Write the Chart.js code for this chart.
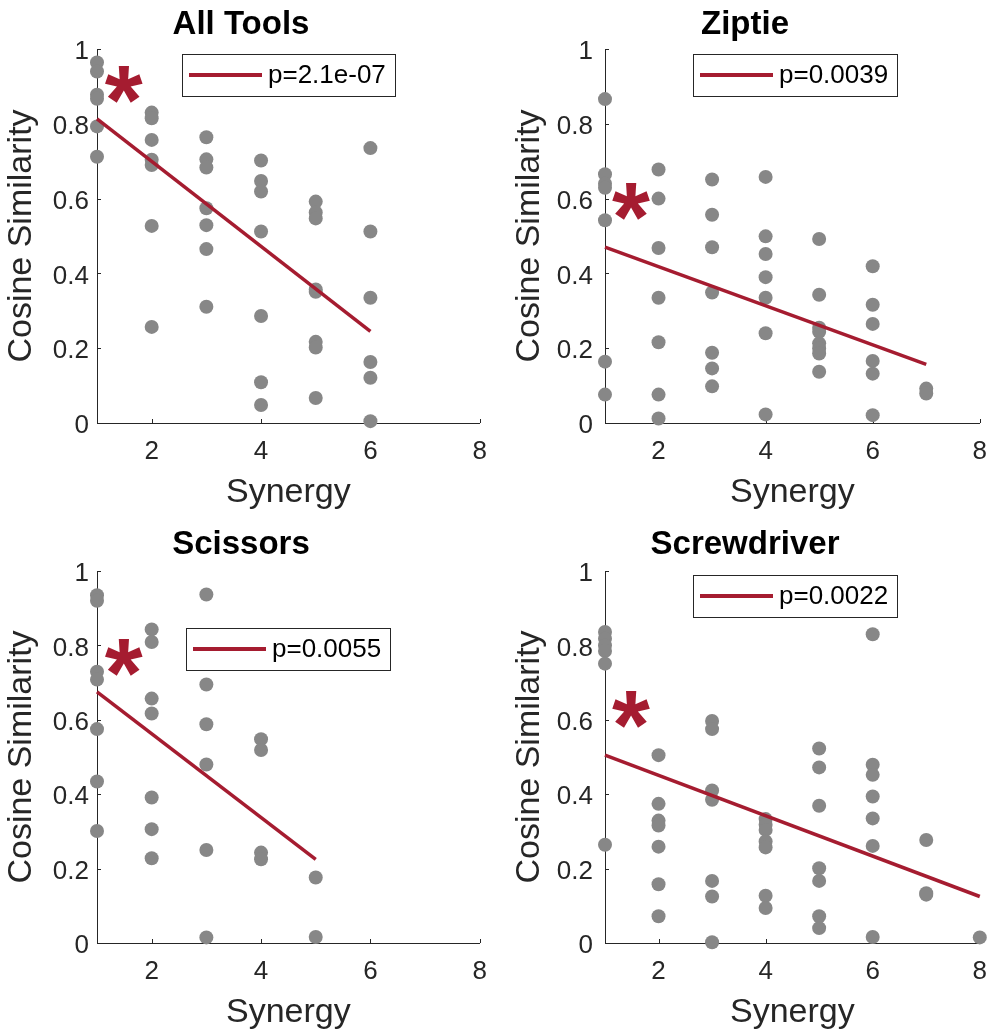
<!DOCTYPE html>
<html><head><meta charset="utf-8">
<script src="https://cdn.jsdelivr.net/npm/chart.js@4.4.1/dist/chart.umd.min.js"></script>
<style>
html,body{margin:0;padding:0;background:#fff;}
#wrap{position:relative;width:1000px;height:1034px;overflow:hidden;}
.p{position:absolute;width:500px;height:517px;}
canvas{display:block;}
</style></head><body>
<div id="wrap">
<div class="p" style="left:0;top:0"><canvas id="c1" width="500" height="517"></canvas></div>
<div class="p" style="left:500px;top:0"><canvas id="c2" width="500" height="517"></canvas></div>
<div class="p" style="left:0;top:517px"><canvas id="c3" width="500" height="517"></canvas></div>
<div class="p" style="left:500px;top:517px"><canvas id="c4" width="500" height="517"></canvas></div>
</div>
<script>
// ---------- data ----------
const panelTitles = ['All Tools', 'Ziptie', 'Scissors', 'Screwdriver'];
const pLabels = ['p=2.1e-07', 'p=0.0039', 'p=0.0055', 'p=0.0022'];
const xTitle = 'Synergy';
const yTitle = 'Cosine Similarity';
const xTickValues = [2, 4, 6, 8];
const xTickLabels = ['2', '4', '6', '8'];
const yTickValues = [0, 0.2, 0.4, 0.6, 0.8, 1];
const yTickLabels = ['0', '0.2', '0.4', '0.6', '0.8', '1'];

const allToolsSynergy = [1,1,1,1,1,1, 2,2,2,2,2,2,2, 3,3,3,3,3,3,3, 4,4,4,4,4,4,4, 5,5,5,5,5,5,5,5, 6,6,6,6,6,6];
const allToolsCosine = [0.964,0.940,0.878,0.867,0.793,0.712, 0.830,0.815,0.757,0.704,0.690,0.527,0.257, 0.764,0.705,0.683,0.574,0.529,0.465,0.311, 0.702,0.647,0.619,0.512,0.286,0.109,0.048, 0.592,0.563,0.547,0.357,0.351,0.217,0.202,0.067, 0.735,0.512,0.335,0.163,0.121,0.005];

const zipSynergy = [1,1,1,1,1,1,1, 2,2,2,2,2,2,2, 3,3,3,3,3,3,3, 4,4,4,4,4,4,4, 5,5,5,5,5,5,5,5, 6,6,6,6,6,6, 7,7];
const zipCosine = [0.866,0.665,0.640,0.629,0.542,0.164,0.076, 0.678,0.600,0.468,0.335,0.216,0.076,0.012, 0.651,0.557,0.470,0.349,0.188,0.146,0.098, 0.658,0.499,0.452,0.390,0.335,0.240,0.023, 0.492,0.343,0.255,0.244,0.213,0.199,0.186,0.137, 0.419,0.316,0.265,0.166,0.132,0.021, 0.092,0.079];

const scissorsSynergy = [1,1,1,1,1,1,1, 2,2,2,2,2,2,2, 3,3,3,3,3,3, 4,4,4,4, 5,5];
const scissorsCosine = [0.935,0.920,0.729,0.708,0.575,0.434,0.301, 0.843,0.809,0.657,0.617,0.391,0.306,0.228, 0.937,0.695,0.588,0.480,0.250,0.015, 0.548,0.519,0.243,0.225, 0.176,0.016];

const screwSynergy = [1,1,1,1,1,1, 2,2,2,2,2,2,2, 3,3,3,3,3,3,3, 4,4,4,4,4,4,4, 5,5,5,5,5,5,5, 6,6,6,6,6,6,6, 7,7,7, 8];
const screwCosine = [0.836,0.818,0.800,0.785,0.751,0.264, 0.505,0.374,0.329,0.316,0.259,0.158,0.072, 0.597,0.575,0.410,0.385,0.167,0.125,0.002, 0.333,0.318,0.304,0.273,0.257,0.127,0.094, 0.523,0.472,0.369,0.201,0.167,0.072,0.040, 0.830,0.479,0.452,0.394,0.335,0.261,0.016, 0.277,0.134,0.130, 0.015];

// regression line end points
const fitSynergy = [[1, 6], [1, 7], [1, 5], [1, 8]];
const fitCosine = [[0.813, 0.245], [0.470, 0.157], [0.675, 0.225], [0.505, 0.125]];
// significance asterisk positions
const starSynergy = [1.49, 1.485, 1.49, 1.485];
const starCosine = [0.904, 0.592, 0.767, 0.627];

// ---------- style ----------
const FONT = "'Liberation Sans', Arial, Helvetica, sans-serif";
const CRIMSON = '#A51C30';
const GRAY = '#878787';
const AX = '#262626';
Chart.defaults.font.family = FONT;

const panelDecor = {
  id: 'panelDecor',
  beforeDatasetsDraw(chart) {
    const {ctx, chartArea: a, scales: {x, y}} = chart;
    ctx.save();
    ctx.strokeStyle = AX; ctx.lineWidth = 1;
    ctx.beginPath();
    xTickValues.forEach(v => { const px = Math.round(x.getPixelForValue(v)) + 0.5; ctx.moveTo(px, a.bottom); ctx.lineTo(px, a.bottom - 4); });
    yTickValues.forEach(v => { const py = Math.round(y.getPixelForValue(v)) + 0.5; ctx.moveTo(a.left, py); ctx.lineTo(a.left + 4, py); });
    ctx.stroke();
    ctx.restore();
  },
  afterDatasetsDraw(chart, args, opts) {
    const {ctx, scales: {x, y}} = chart;
    const idx = opts.idx;
    ctx.save();
    // asterisk
    ctx.font = 'bold 100px ' + FONT;
    const m0 = ctx.measureText('*');
    const h0 = m0.actualBoundingBoxAscent + m0.actualBoundingBoxDescent;
    const size = 100 * 37 / h0;
    ctx.font = 'bold ' + size + 'px ' + FONT;
    const m = ctx.measureText('*');
    const cx = x.getPixelForValue(starSynergy[idx]);
    const cy = y.getPixelForValue(starCosine[idx]);
    ctx.textAlign = 'left'; ctx.textBaseline = 'alphabetic';
    ctx.fillStyle = CRIMSON;
    ctx.fillText('*', cx - (m.actualBoundingBoxRight - m.actualBoundingBoxLeft) / 2, cy + (m.actualBoundingBoxAscent - m.actualBoundingBoxDescent) / 2);
    // legend box
    const label = chart.data.datasets[0].label;
    ctx.font = '26px ' + FONT;
    const tw = ctx.measureText(label).width;
    const L = opts.legendLeft, T = opts.legendTop, H = 42;
    const W = 86 + tw + 9;
    ctx.fillStyle = '#fff';
    ctx.fillRect(L, T, W, H);
    ctx.strokeStyle = AX; ctx.lineWidth = 1;
    ctx.strokeRect(Math.round(L) + 0.5, Math.round(T) + 0.5, Math.round(W), H);
    ctx.strokeStyle = CRIMSON; ctx.lineWidth = 4; ctx.lineCap = 'butt';
    ctx.beginPath(); ctx.moveTo(L + 7, T + H / 2); ctx.lineTo(L + 80, T + H / 2); ctx.stroke();
    ctx.fillStyle = '#000'; ctx.textBaseline = 'middle';
    ctx.fillText(label, L + 86, T + H / 2 + 1);
    ctx.restore();
  }
};

const layouts = [
  {right: 18, titleTop: 5, titleBottom: 4.4, xHeight: 94, xTitlePad: 4, yWidth: 97, yTitlePad: 1.6, yTickPad: 8, legendLeft: 182, legendTop: 54},
  {right: 10, titleTop: 5, titleBottom: 4.4, xHeight: 94, xTitlePad: 4, yWidth: 105, yTitlePad: 9.6, yTickPad: 12, legendLeft: 193, legendTop: 54},
  {right: 18, titleTop: 8.2, titleBottom: 6.2, xHeight: 91, xTitlePad: 1, yWidth: 97, yTitlePad: 1.6, yTickPad: 8, legendLeft: 186, legendTop: 111},
  {right: 10, titleTop: 8.2, titleBottom: 6.2, xHeight: 91, xTitlePad: 1, yWidth: 105, yTitlePad: 9.6, yTickPad: 12, legendLeft: 193, legendTop: 58}
];

function buildPanel(id, idx, synergy, cosine) {
  const lay = layouts[idx];
  const points = synergy.map((s, i) => ({x: s, y: cosine[i]}));
  const fit = fitSynergy[idx].map((s, i) => ({x: s, y: fitCosine[idx][i]}));
  return new Chart(document.getElementById(id), {
    type: 'scatter',
    data: {datasets: [
      {type: 'line', label: pLabels[idx], data: fit, borderColor: CRIMSON, borderWidth: 3.5, pointRadius: 0, fill: false, order: 0, borderCapStyle: 'butt', clip: false},
      {label: panelTitles[idx], data: points, backgroundColor: GRAY, borderWidth: 0, pointRadius: 7, pointHoverRadius: 7, order: 1, clip: false}
    ]},
    options: {
      responsive: false, animation: false, devicePixelRatio: 1,
      events: [],
      layout: {padding: {left: 0, right: lay.right, top: 0, bottom: 0}},
      plugins: {
        legend: {display: false},
        tooltip: {enabled: false},
        title: {display: true, text: panelTitles[idx], color: '#000', font: {family: FONT, size: 33, weight: 'bold', lineHeight: 1.2}, padding: {top: lay.titleTop, bottom: lay.titleBottom}},
        panelDecor: {idx: idx, legendLeft: lay.legendLeft, legendTop: lay.legendTop}
      },
      scales: {
        x: {
          type: 'linear', min: 1, max: 8,
          grid: {display: false, drawTicks: false},
          border: {display: true, color: AX, width: 1},
          afterBuildTicks: s => { s.ticks = xTickValues.map(v => ({value: v})); },
          ticks: {color: AX, font: {family: FONT, size: 26}, padding: 13, maxRotation: 0, autoSkip: false, callback: (v, i) => xTickLabels[i]},
          title: {display: true, text: xTitle, color: AX, font: {family: FONT, size: 34, lineHeight: 1.2}, padding: {top: 0, bottom: lay.xTitlePad}},
          afterFit: s => { s.height = lay.xHeight; }
        },
        y: {
          type: 'linear', min: 0, max: 1,
          grid: {display: false, drawTicks: false},
          border: {display: true, color: AX, width: 1},
          afterBuildTicks: s => { s.ticks = yTickValues.map(v => ({value: v})); },
          ticks: {color: AX, font: {family: FONT, size: 26}, padding: lay.yTickPad, labelOffset: 3, autoSkip: false, callback: (v, i) => yTickLabels[i]},
          title: {display: true, text: yTitle, color: AX, font: {family: FONT, size: 34, lineHeight: 1.2}, padding: {top: lay.yTitlePad, bottom: 0}},
          afterFit: s => { s.width = lay.yWidth; }
        }
      }
    },
    plugins: [panelDecor]
  });
}

buildPanel('c1', 0, allToolsSynergy, allToolsCosine);
buildPanel('c2', 1, zipSynergy, zipCosine);
buildPanel('c3', 2, scissorsSynergy, scissorsCosine);
buildPanel('c4', 3, screwSynergy, screwCosine);
</script>
</body></html>
